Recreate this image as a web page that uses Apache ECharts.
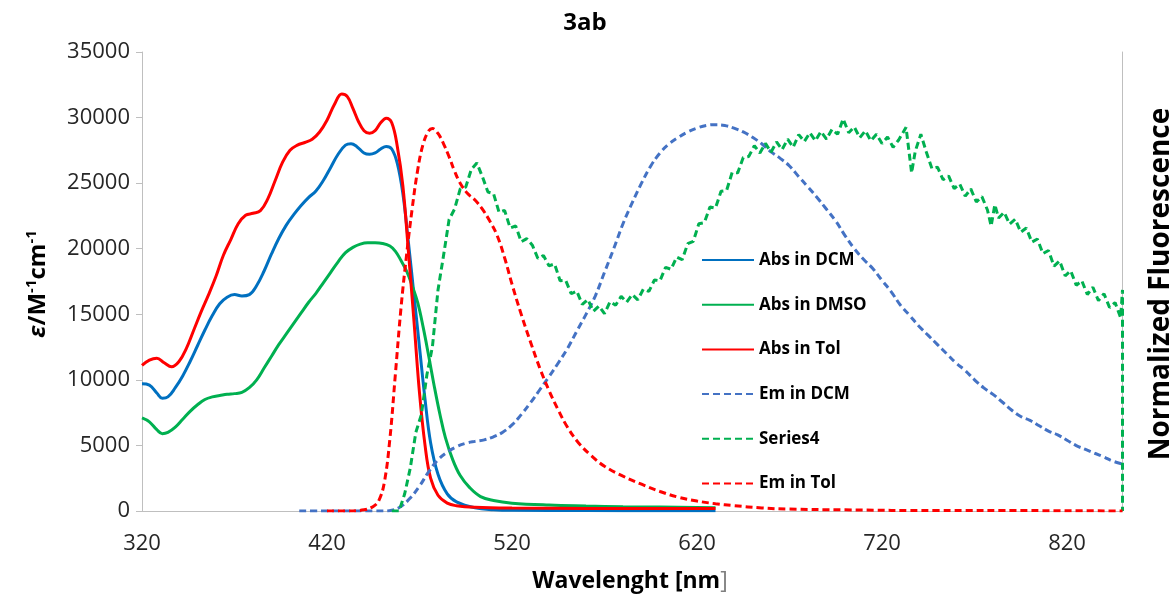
<!DOCTYPE html>
<html>
<head>
<meta charset="utf-8">
<script src="https://cdn.jsdelivr.net/npm/echarts@6.0.0/dist/echarts.min.js"></script>
<style>
  html, body { margin: 0; padding: 0; background: #ffffff; }
  #chart { width: 1176px; height: 599px; }
</style>
</head>
<body>
<div id="chart"></div>
<script>
// Axis ticks
const wavelengthTicks = [320, 420, 520, 620, 720, 820];
const epsilonTicks = [0, 5000, 10000, 15000, 20000, 25000, 30000, 35000];

// Absorption spectra: [wavelength nm, molar absorptivity M^-1 cm^-1]
const absDCM = [
  [320, 9700], [324, 9600], [328, 9000], [331, 8600], [334, 8700], [338, 9400], [342, 10300],
  [346, 11400], [350, 12600], [354, 13800], [358, 14900], [362, 15800], [366, 16300], [370, 16500],
  [374, 16400], [378, 16500], [382, 17200], [386, 18300], [390, 19600], [394, 20800], [398, 21800],
  [402, 22600], [406, 23300], [410, 23900], [414, 24400], [418, 25200], [422, 26200], [426, 27200],
  [430, 27900], [433, 28000], [436, 27800], [440, 27300], [443, 27200], [446, 27300], [449, 27600],
  [452, 27800], [455, 27600], [458, 26500], [461, 24200], [464, 20500], [467, 16500], [470, 12500],
  [473, 8500], [476, 5200], [480, 2800], [485, 1300], [490, 700], [500, 250], [510, 100],
  [520, 50], [560, 30], [600, 20], [630, 20]
];
const absDMSO = [
  [320, 7100], [324, 6800], [328, 6200], [331, 5900], [334, 6000], [338, 6400], [342, 7000],
  [346, 7600], [350, 8100], [354, 8500], [358, 8700], [362, 8800], [366, 8900], [370, 8950],
  [374, 9050], [378, 9400], [382, 10000], [386, 10900], [390, 11800], [394, 12700], [398, 13500],
  [402, 14300], [406, 15100], [410, 15900], [414, 16600], [418, 17400], [422, 18200], [426, 19000],
  [430, 19700], [434, 20100], [438, 20350], [442, 20450], [446, 20450], [450, 20400], [454, 20200],
  [457, 19800], [460, 19100], [463, 18300], [466, 17200], [469, 15900], [472, 14000], [475, 11800],
  [478, 9500], [481, 7400], [484, 5600], [488, 3900], [492, 2700], [497, 1800], [503, 1100],
  [510, 800], [520, 600], [540, 450], [560, 380], [580, 330], [600, 300], [630, 250]
];
const absTol = [
  [320, 11100], [324, 11500], [328, 11650], [332, 11300], [336, 11000], [340, 11400], [344, 12400],
  [348, 13800], [352, 15200], [356, 16500], [360, 17900], [364, 19500], [368, 20700], [372, 21900],
  [376, 22550], [380, 22700], [384, 22900], [388, 23800], [392, 25200], [396, 26600], [400, 27500],
  [404, 27900], [408, 28100], [412, 28350], [416, 28900], [420, 29800], [424, 31000], [428, 31800],
  [431, 31600], [434, 30700], [437, 29700], [440, 29000], [443, 28800], [446, 29000], [449, 29600],
  [452, 29950], [455, 29600], [458, 27800], [461, 24800], [464, 19800], [467, 14500], [470, 9000],
  [473, 5000], [476, 2500], [480, 1200], [485, 600], [490, 400], [500, 280], [520, 220],
  [560, 200], [600, 200], [630, 200]
];

// Emission spectra, normalized intensity
const emDCM = [
  [405, 0], [450, 0], [455, 0.002], [460, 0.012], [465, 0.034], [470, 0.065], [475, 0.103],
  [480, 0.134], [485, 0.154], [490, 0.168], [495, 0.177], [500, 0.182], [505, 0.186], [510, 0.194],
  [515, 0.206], [520, 0.225], [525, 0.252], [530, 0.283], [535, 0.317], [540, 0.351], [545, 0.387],
  [550, 0.425], [555, 0.470], [560, 0.514], [565, 0.562], [570, 0.624], [575, 0.686], [580, 0.751],
  [585, 0.806], [590, 0.857], [595, 0.902], [600, 0.936], [605, 0.960], [610, 0.977], [615, 0.991],
  [620, 1.001], [625, 1.008], [630, 1.010], [635, 1.008], [640, 1.001], [645, 0.991], [650, 0.977],
  [655, 0.960], [660, 0.939], [665, 0.922], [670, 0.902], [675, 0.874], [680, 0.847], [685, 0.819],
  [690, 0.789], [695, 0.758], [700, 0.720], [705, 0.686], [710, 0.658], [715, 0.634], [720, 0.603],
  [725, 0.573], [730, 0.538], [735, 0.511], [740, 0.483], [745, 0.459], [750, 0.435], [755, 0.411],
  [760, 0.387], [765, 0.367], [770, 0.343], [775, 0.322], [780, 0.305], [785, 0.285], [790, 0.264],
  [795, 0.247], [800, 0.237], [805, 0.223], [810, 0.209], [815, 0.199], [820, 0.185], [825, 0.171],
  [830, 0.161], [835, 0.151], [840, 0.141], [845, 0.130], [850, 0.123]
];
const emDMSO = [
  [455, 0], [459, 0], [462, 0.045], [465, 0.112], [468, 0.205], [471, 0.252], [474, 0.356],
  [477, 0.430], [480, 0.578], [483, 0.668], [486, 0.762], [489, 0.790], [492, 0.842], [495, 0.847],
  [498, 0.893], [501, 0.910], [504, 0.874], [507, 0.834], [510, 0.830], [513, 0.781], [516, 0.786],
  [519, 0.740], [522, 0.745], [525, 0.704], [528, 0.712], [531, 0.695], [534, 0.660], [537, 0.668],
  [540, 0.641], [543, 0.646], [546, 0.602], [549, 0.603], [552, 0.568], [555, 0.575], [558, 0.540],
  [561, 0.553], [564, 0.522], [567, 0.536], [570, 0.516], [573, 0.547], [576, 0.538], [579, 0.561],
  [582, 0.546], [585, 0.566], [588, 0.552], [591, 0.580], [594, 0.574], [597, 0.604], [600, 0.602],
  [603, 0.637], [606, 0.632], [609, 0.664], [612, 0.657], [615, 0.699], [618, 0.705], [621, 0.751],
  [624, 0.754], [627, 0.795], [630, 0.792], [633, 0.836], [636, 0.838], [639, 0.885], [642, 0.884],
  [645, 0.924], [648, 0.927], [651, 0.955], [654, 0.936], [657, 0.961], [660, 0.938], [663, 0.965],
  [666, 0.945], [669, 0.972], [672, 0.951], [675, 0.984], [678, 0.966], [681, 0.989], [684, 0.968],
  [687, 0.992], [690, 0.972], [693, 0.998], [696, 0.985], [699, 1.025], [702, 0.989], [705, 1.004],
  [708, 0.976], [711, 0.994], [714, 0.968], [717, 0.985], [720, 0.961], [723, 0.978], [726, 0.951],
  [729, 0.970], [733, 1.003], [736, 0.884], [738, 0.941], [741, 0.985], [744, 0.938], [747, 0.895],
  [750, 0.899], [753, 0.866], [756, 0.876], [759, 0.843], [762, 0.855], [765, 0.823], [768, 0.842],
  [771, 0.808], [774, 0.822], [777, 0.787], [779, 0.745], [781, 0.801], [783, 0.766], [786, 0.781],
  [789, 0.750], [792, 0.763], [795, 0.729], [798, 0.740], [801, 0.703], [804, 0.711], [807, 0.673],
  [810, 0.681], [813, 0.640], [816, 0.654], [819, 0.615], [822, 0.628], [825, 0.590], [828, 0.602],
  [831, 0.566], [834, 0.585], [837, 0.550], [840, 0.568], [843, 0.532], [846, 0.545], [849, 0.505],
  [850, 0.578], [850, 0]
];
const emTol = [
  [420, 0], [430, 0], [440, 0.003], [445, 0.012], [448, 0.027], [451, 0.075], [454, 0.189],
  [457, 0.360], [460, 0.531], [463, 0.669], [466, 0.789], [469, 0.891], [472, 0.960], [475, 0.994],
  [477, 1.000], [480, 0.987], [483, 0.960], [486, 0.926], [489, 0.888], [492, 0.857], [496, 0.830],
  [500, 0.813], [504, 0.789], [508, 0.758], [512, 0.720], [516, 0.662], [520, 0.593], [525, 0.514],
  [530, 0.442], [535, 0.374], [540, 0.315], [545, 0.264], [550, 0.219], [556, 0.178], [563, 0.144],
  [570, 0.117], [580, 0.091], [590, 0.070], [600, 0.051], [610, 0.036], [620, 0.026], [630, 0.019],
  [640, 0.014], [655, 0.008], [670, 0.005], [700, 0.003], [750, 0.001], [800, 0.001], [850, 0]
];

const seriesNames = ['Abs in DCM', 'Abs in DMSO', 'Abs in Tol', 'Em in DCM', 'Series4', 'Em in Tol'];

const chart = echarts.init(document.getElementById('chart'), null, { renderer: 'canvas' });

const AXIS_GRAY = '#bfbfbf';
const FONT = '"Open Sans", sans-serif';
const DASH = [7, 4];

function solid(name, data, color) {
  return {
    name, type: 'line', data, yAxisIndex: 0,
    symbol: 'none', smooth: 0.4,
    lineStyle: { color, width: 3 },
    itemStyle: { color }
  };
}
function dashed(name, data, color, smooth) {
  return {
    name, type: 'line', data, yAxisIndex: 1,
    symbol: 'none', smooth,
    lineStyle: { color, width: 3, type: DASH },
    itemStyle: { color }
  };
}

chart.setOption({
  animation: false,
  backgroundColor: '#ffffff',
  grid: { left: 142, right: 53.5, top: 52, bottom: 88, containLabel: false },
  xAxis: {
    type: 'value', min: 320, max: 850,
    axisLine: { show: true, lineStyle: { color: AXIS_GRAY, width: 1 } },
    axisTick: { show: false },
    splitLine: { show: false },
    axisLabel: {
      customValues: wavelengthTicks,
      formatter: v => String(v),
      color: '#262626', fontFamily: FONT, fontSize: 22, margin: 22
    }
  },
  yAxis: [
    {
      type: 'value', min: 0, max: 35000, interval: 5000,
      axisLine: { show: true, lineStyle: { color: AXIS_GRAY, width: 1 } },
      axisTick: { show: true, length: 6, lineStyle: { color: AXIS_GRAY } },
      splitLine: { show: false },
      axisLabel: {
        customValues: epsilonTicks,
        formatter: v => String(v),
        color: '#262626', fontFamily: FONT, fontSize: 22, margin: 12
      }
    },
    {
      type: 'value', min: 0, max: 1.2, position: 'right',
      axisLine: { show: true, lineStyle: { color: AXIS_GRAY, width: 1 } },
      axisTick: { show: false },
      axisLabel: { show: false },
      splitLine: { show: false }
    }
  ],
  legend: {
    orient: 'vertical', left: 701, top: 250, padding: 0,
    itemWidth: 52, itemHeight: 14, itemGap: 24.7,
    data: seriesNames,
    itemStyle: { opacity: 0 },
    textStyle: { fontFamily: FONT, fontWeight: 'bold', fontSize: 17, color: '#000000', lineHeight: 20 }
  },
  series: [
    solid(seriesNames[0], absDCM, '#0070c0'),
    solid(seriesNames[1], absDMSO, '#00b050'),
    solid(seriesNames[2], absTol, '#ff0000'),
    dashed(seriesNames[3], emDCM, '#4472c4', 0.4),
    dashed(seriesNames[4], emDMSO, '#00b050', false),
    dashed(seriesNames[5], emTol, '#ff0000', 0.4)
  ],
  graphic: [
    {
      type: 'text', x: 585, y: 23,
      style: {
        text: '3ab', fill: '#000000', align: 'center', verticalAlign: 'middle',
        font: 'bold 24px ' + FONT
      }
    },
    {
      type: 'text', x: 630, y: 581,
      style: {
        text: '{b|Wavelenght [nm}{g|]}', align: 'center', verticalAlign: 'middle',
        rich: {
          b: { fontFamily: FONT, fontWeight: 'bold', fontSize: 23, fill: '#000000' },
          g: { fontFamily: FONT, fontWeight: 'normal', fontSize: 23, fill: '#7f7f7f' }
        }
      }
    },
    {
      type: 'text', x: 38, y: 284, rotation: Math.PI / 2,
      style: {
        text: '{e|ε}{a|/M}{s|-1}{a|cm}{s|-1}', align: 'center', verticalAlign: 'middle',
        rich: {
          e: { fontFamily: FONT, fontWeight: 'bold', fontStyle: 'italic', fontSize: 24, lineHeight: 28, fill: '#000000' },
          a: { fontFamily: FONT, fontWeight: 'bold', fontSize: 24, lineHeight: 28, fill: '#000000' },
          s: { fontFamily: FONT, fontWeight: 'bold', fontSize: 15, lineHeight: 15, verticalAlign: 'top', fill: '#000000' }
        }
      }
    },
    {
      type: 'text', x: 1161, y: 284, rotation: Math.PI / 2,
      style: {
        text: 'Normalized Fluorescence', fill: '#000000', align: 'center', verticalAlign: 'middle',
        font: 'bold 28px ' + FONT
      }
    }
  ]
});
</script>
</body>
</html>
